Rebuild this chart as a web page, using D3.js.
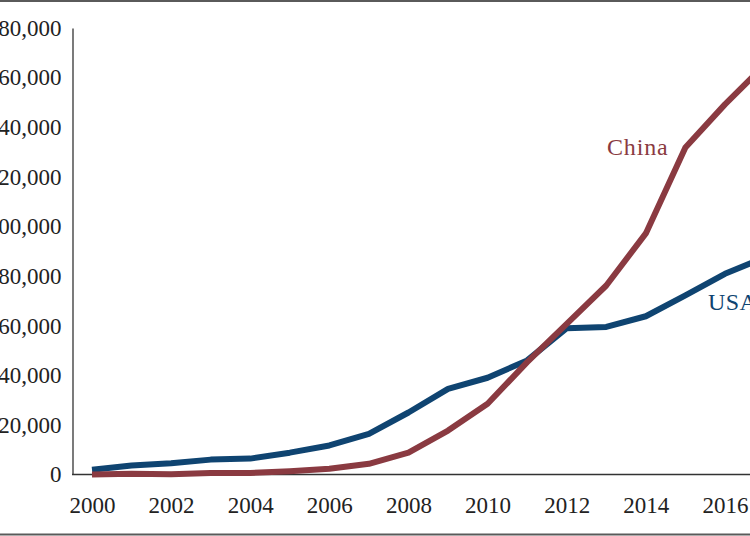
<!DOCTYPE html>
<html>
<head>
<meta charset="utf-8">
<script src="https://cdn.jsdelivr.net/npm/d3@7"></script>
<style>
  html, body { margin: 0; padding: 0; background: #fff; }
  svg { display: block; overflow: hidden; }
</style>
</head>
<body>
<script>
const years = [2000,2001,2002,2003,2004,2005,2006,2007,2008,2009,2010,2011,2012,2013,2014,2015,2016,2017];
const usaValues = [1900,3600,4500,6000,6400,8800,11700,16400,25000,34500,39000,46000,59000,59500,63800,72200,80900,87500];
const chinaValues = [0,300,150,650,650,1300,2300,4300,8800,17700,28500,45300,60700,76200,97200,131800,149200,165000];
const yTicks = [0,20000,40000,60000,80000,100000,120000,140000,160000,180000];
const xTicks = [2000,2002,2004,2006,2008,2010,2012,2014,2016];
const seriesNames = ["China","USA"];

const W = 750, H = 536;
const svg = d3.select("body").append("svg").attr("width", W).attr("height", H);

const x = d3.scaleLinear().domain([2000, 2017]).range([92, 92 + 17 * 39.56]);
const y = d3.scaleLinear().domain([0, 180000]).range([474.5, 28]);

const FONT = "'Liberation Serif', 'DejaVu Serif', serif";
const chinaColor = "#8a3a41";
const usaColor = "#0f4471";

// frame lines top and bottom
svg.append("line").attr("x1", 0).attr("x2", W).attr("y1", 1).attr("y2", 1)
  .attr("stroke", "#5a5a5a").attr("stroke-width", 2);
svg.append("line").attr("x1", 0).attr("x2", W).attr("y1", 534.5).attr("y2", 534.5)
  .attr("stroke", "#5a5a5a").attr("stroke-width", 2);

// y axis
const yAxis = svg.append("g").attr("transform", "translate(72.5,0)")
  .call(d3.axisLeft(y).tickValues(yTicks).tickSize(0).tickSizeOuter(0).tickPadding(11)
    .tickFormat(d3.format(",")));
yAxis.select(".domain").attr("stroke", "#333").attr("stroke-width", 1.3);
yAxis.selectAll("text").attr("font-family", FONT).attr("font-size", 23).attr("fill", "#222");

// x axis
const xAxis = svg.append("g").attr("transform", `translate(0,${y(0)})`)
  .call(d3.axisBottom(x).tickValues(xTicks).tickSize(0).tickPadding(22).tickFormat(d3.format("d")));
xAxis.select(".domain").remove();
xAxis.selectAll("text").attr("font-family", FONT).attr("font-size", 23).attr("fill", "#222");
svg.append("line").attr("x1", 72).attr("x2", W + 40).attr("y1", y(0)).attr("y2", y(0))
  .attr("stroke", "#333").attr("stroke-width", 1.3);

const line = d3.line().x((d, i) => x(years[i])).y(d => y(d));

svg.append("path").datum(usaValues).attr("d", line)
  .attr("fill", "none").attr("stroke", usaColor).attr("stroke-width", 6)
  .attr("stroke-linejoin", "round");
svg.append("path").datum(chinaValues).attr("d", line)
  .attr("fill", "none").attr("stroke", chinaColor).attr("stroke-width", 6)
  .attr("stroke-linejoin", "round");

// series labels
svg.append("text").attr("x", x(2013.02)).attr("y", y(128800))
  .attr("font-family", FONT).attr("font-size", 24).attr("letter-spacing", 0.8)
  .attr("fill", chinaColor).text(seriesNames[0]);
svg.append("text").attr("x", x(2015.57)).attr("y", y(66500))
  .attr("font-family", FONT).attr("font-size", 24).attr("letter-spacing", 0.5)
  .attr("fill", usaColor).text(seriesNames[1]);
</script>
</body>
</html>
